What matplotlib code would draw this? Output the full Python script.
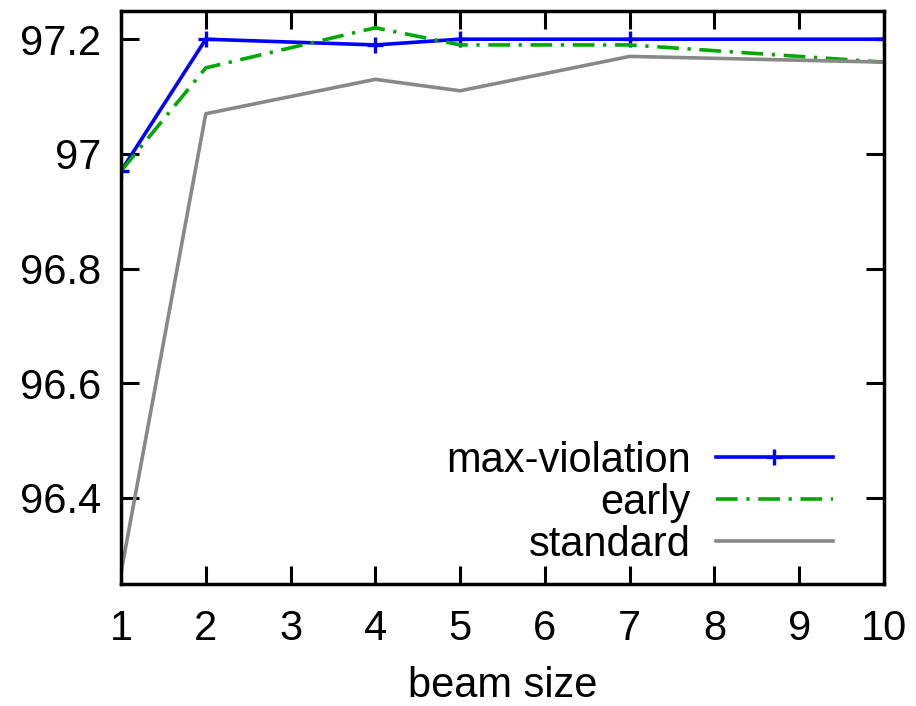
import matplotlib
matplotlib.use('Agg')
import matplotlib.pyplot as plt

plt.rcParams['font.family'] = ['Liberation Sans', 'DejaVu Sans']

# beam sizes that were tried
beam = [1, 2, 4, 5, 7, 10]
# accuracy for each update method
max_violation = [96.97, 97.20, 97.19, 97.20, 97.20, 97.20]
early = [96.97, 97.15, 97.22, 97.19, 97.19, 97.16]
standard = [96.27, 97.07, 97.13, 97.11, 97.17, 97.16]

xticks = [1, 2, 3, 4, 5, 6, 7, 8, 9, 10]
yticks = [96.4, 96.6, 96.8, 97.0, 97.2]
ytick_labels = ['96.4', '96.6', '96.8', '97', '97.2']

fig = plt.figure(figsize=(9.16, 7.06), dpi=100)
ax = fig.add_axes([0.1321, 0.1728, 0.833, 0.8123])

ax.plot(beam, max_violation, color='#0000ff', lw=2.6, marker='+', ms=12, mew=2.4,
        label='max-violation')
ax.plot(beam, early, color='#00a800', lw=2.6, dashes=(6.0, 2.4, 0.9, 2.4),
        label='early')
ax.plot(beam, standard, color='#888888', lw=2.6, label='standard')

ax.set_xlim(1, 10)
ax.set_ylim(96.25, 97.25)
ax.set_xticks(xticks)
ax.set_yticks(yticks)
ax.set_yticklabels(ytick_labels)
ax.tick_params(direction='in', length=13, width=2.2, labelsize=30, top=True, right=True)
ax.tick_params(axis='x', pad=18)
ax.tick_params(axis='y', pad=14)
for s in ax.spines.values():
    s.set_linewidth(2.5)

ax.set_xlabel('beam size', fontsize=30, labelpad=12)

ax.legend(loc='lower right', bbox_to_anchor=(0.909, 0.2), bbox_transform=fig.transFigure,
          frameon=False, fontsize=30, markerfirst=False, handlelength=2.8,
          handletextpad=0.6, labelspacing=0.05, borderaxespad=0, borderpad=0,
          numpoints=1)

fig.savefig('out.png', dpi=100)
